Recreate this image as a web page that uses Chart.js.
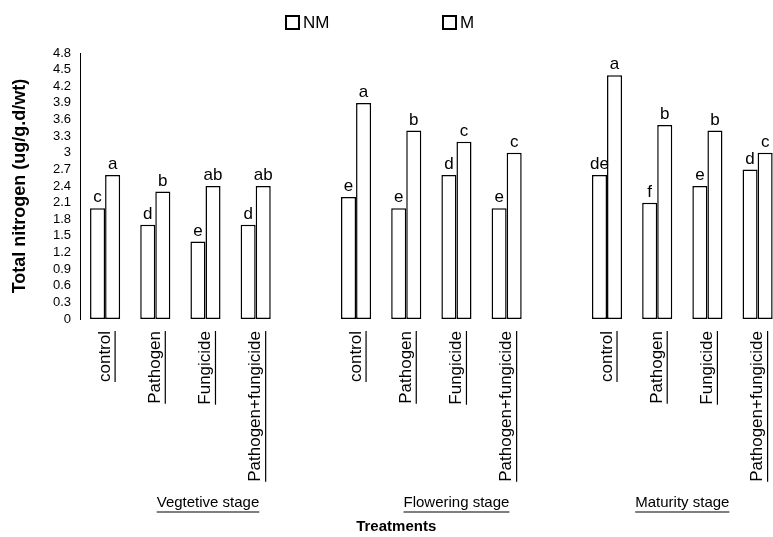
<!DOCTYPE html>
<html>
<head>
<meta charset="utf-8">
<script src="https://cdn.jsdelivr.net/npm/chart.js@4.4.1/dist/chart.umd.min.js"></script>
<style>
  html, body { margin: 0; padding: 0; background: #fff; overflow: hidden; }
  #wrap { width: 790px; height: 537px; }
</style>
</head>
<body>
<div id="wrap"><canvas id="nitrogenChart" width="790" height="537"></canvas></div>
<script>
// data (blank slots separate the three stages)
const categories = ['control', 'Pathogen', 'Fungicide', 'Pathogen+fungicide', '',
                    'control', 'Pathogen', 'Fungicide', 'Pathogen+fungicide', '',
                    'control', 'Pathogen', 'Fungicide', 'Pathogen+fungicide'];
const nmValues = [2.0, 1.7, 1.4, 1.7, null, 2.2, 2.0, 2.6, 2.0, null, 2.6, 2.1, 2.4, 2.7];
const mValues  = [2.6, 2.3, 2.4, 2.4, null, 3.9, 3.4, 3.2, 3.0, null, 4.4, 3.5, 3.4, 3.0];
const nmLetters = ['c', 'd', 'e', 'd', '', 'e', 'e', 'd', 'e', '', 'de', 'f', 'e', 'd'];
const mLetters  = ['a', 'b', 'ab', 'ab', '', 'a', 'b', 'c', 'c', '', 'a', 'b', 'b', 'c'];
const stages = ['Vegtetive stage', 'Flowering stage', 'Maturity stage'];
const yTickLabels = ['0', '0.3', '0.6', '0.9', '1.2', '1.5', '1.8', '2.1', '2.4',
                     '2.7', '3', '3.3', '3.6', '3.9', '4.2', '4.5', '4.8'];

const FONT = '"Liberation Sans", Arial, sans-serif';
const TICK_SIZE = 17;

// letters above the bars
const letterPlugin = {
    id: 'letters',
    afterDatasetsDraw(chart) {
        const ctx = chart.ctx;
        const letterSets = [nmLetters, mLetters];
        ctx.save();
        ctx.fillStyle = '#000';
        ctx.font = '17px ' + FONT;
        ctx.textAlign = 'center';
        ctx.textBaseline = 'bottom';
        chart.data.datasets.forEach((ds, di) => {
            chart.getDatasetMeta(di).data.forEach((bar, i) => {
                if (ds.data[i] == null) return;
                ctx.fillText(letterSets[di][i], bar.x, bar.y - 2);
            });
        });
        ctx.restore();
    }
};

// underlines of the tick labels, stage names, axis title and legend
const extrasPlugin = {
    id: 'extras',
    afterDraw(chart) {
        const ctx = chart.ctx;
        const x = chart.scales.x;
        ctx.save();
        ctx.strokeStyle = '#000';
        ctx.fillStyle = '#000';
        ctx.lineWidth = 1.2;

        // underline of the rotated treatment labels
        ctx.font = TICK_SIZE + 'px ' + FONT;
        categories.forEach((c, i) => {
            if (!c) return;
            const px = x.getPixelForValue(i) + 10;
            const w = ctx.measureText(c).width;
            ctx.beginPath();
            ctx.moveTo(px, x.top + 12);
            ctx.lineTo(px, x.top + 12 + w);
            ctx.stroke();
        });

        // stage names
        const stagePos = [2.05, 7.0, 11.5];
        ctx.font = '15px ' + FONT;
        ctx.textAlign = 'center';
        ctx.textBaseline = 'middle';
        stages.forEach((s, i) => {
            const px = x.getPixelForValue(stagePos[i]);
            const w = ctx.measureText(s).width;
            ctx.fillText(s, px, 503);
            ctx.beginPath();
            ctx.moveTo(px - w / 2, 512);
            ctx.lineTo(px + w / 2, 512);
            ctx.stroke();
        });

        ctx.font = 'bold 15px ' + FONT;
        ctx.fillText('Treatments', x.getPixelForValue(5.8), 527);

        // legend
        const legendX = [286, 443];
        ctx.font = '17px ' + FONT;
        ctx.textAlign = 'left';
        ctx.lineWidth = 2;
        chart.data.datasets.forEach((ds, i) => {
            ctx.strokeRect(legendX[i], 16, 13, 13);
            ctx.fillText(ds.label, legendX[i] + 17, 23);
        });
        ctx.restore();
    }
};

new Chart(document.getElementById('nitrogenChart'), {
    type: 'bar',
    data: {
        labels: categories,
        datasets: [
            { label: 'NM', data: nmValues, backgroundColor: '#fff', borderColor: '#000',
              borderWidth: 1.5, borderSkipped: false },
            { label: 'M', data: mValues, backgroundColor: '#fff', borderColor: '#000',
              borderWidth: 1.5, borderSkipped: false }
        ]
    },
    options: {
        responsive: false,
        animation: false,
        layout: { padding: { top: 53, right: 0, left: 0, bottom: 0 } },
        datasets: { bar: { categoryPercentage: 0.6, barPercentage: 1.0 } },
        plugins: { legend: { display: false }, tooltip: { enabled: false } },
        scales: {
            x: {
                grid: { display: false, drawTicks: false },
                border: { display: false },
                afterFit(scale) { scale.height = 218; },
                ticks: {
                    autoSkip: false, minRotation: 90, maxRotation: 90,
                    padding: 12, color: '#000', font: { family: FONT, size: TICK_SIZE }
                }
            },
            y: {
                min: 0, max: 4.8,
                grid: { display: false, drawTicks: false },
                border: { display: true, color: '#000', width: 1 },
                afterFit(scale) { scale.width = 80; },
                ticks: {
                    autoSkip: false, stepSize: 0.3, padding: 9, color: '#000',
                    font: { family: FONT, size: 13 },
                    callback: (v, i) => yTickLabels[i] ?? v
                },
                title: {
                    display: true, text: 'Total nitrogen (ug/g.d/wt)', color: '#000',
                    font: { family: FONT, size: 18, weight: 'bold' },
                    padding: { top: 9, bottom: 0 }
                }
            }
        }
    },
    plugins: [letterPlugin, extrasPlugin]
});
</script>
</body>
</html>
